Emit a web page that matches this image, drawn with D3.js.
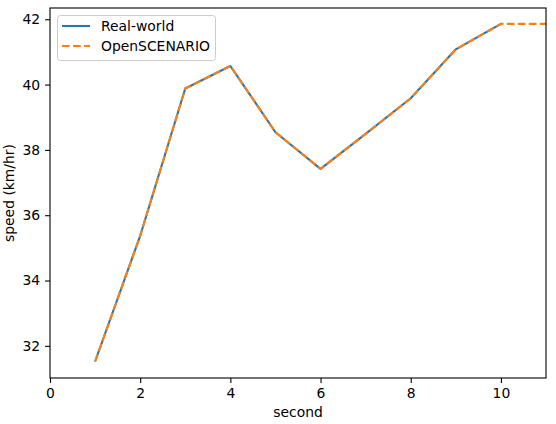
<!DOCTYPE html>
<html>
<head>
  <meta charset="utf-8">
  <script src="https://d3js.org/d3.v7.min.js"></script>
  <style>
    body { margin: 0; background: #fff; }
    text { font-family: "DejaVu Sans", sans-serif; }
  </style>
</head>
<body>
<script>
  // values
  var seconds = [1, 2, 3, 4, 5, 6, 7, 8, 9, 10];
  var realWorld = [31.52, 35.37, 39.88, 40.57, 38.54, 37.42, 38.49, 39.58, 41.08, 41.86];
  var scenarioSeconds = [1, 2, 3, 4, 5, 6, 7, 8, 9, 10, 11, 12];
  var openScenario = [31.52, 35.37, 39.88, 40.57, 38.54, 37.42, 38.49, 39.58, 41.08, 41.86, 41.86, 41.86];
  var xTicks = [0, 2, 4, 6, 8, 10];
  var yTicks = [32, 34, 36, 38, 40, 42];

  var W = 556, H = 424;
  var axL = 50, axR = 546, axT = 8, axB = 378;

  var svg = d3.select("body").append("svg")
      .attr("width", W).attr("height", H);

  var x = d3.scaleLinear().domain([0, 11]).range([axL, axR]);
  var y = d3.scaleLinear().domain([31.015, 42.345]).range([axB, axT]);

  svg.append("defs").append("clipPath").attr("id", "clip")
    .append("rect").attr("x", axL).attr("y", axT)
      .attr("width", axR - axL).attr("height", axB - axT);

  var line = d3.line().x(function(d) { return x(d[0]); }).y(function(d) { return y(d[1]); });

  var plot = svg.append("g").attr("clip-path", "url(#clip)");
  plot.append("path")
      .datum(d3.zip(seconds, realWorld))
      .attr("d", line)
      .attr("fill", "none").attr("stroke", "#1f77b4")
      .attr("stroke-width", 2.08).attr("stroke-linejoin", "round");
  plot.append("path")
      .datum(d3.zip(scenarioSeconds, openScenario))
      .attr("d", line)
      .attr("fill", "none").attr("stroke", "#ff7f0e")
      .attr("stroke-width", 2.08).attr("stroke-dasharray", "7.7,3.3");

  // axes
  var xAxis = svg.append("g").attr("transform", "translate(0," + axB + ")")
      .call(d3.axisBottom(x).tickValues(xTicks).tickSize(4.9).tickPadding(4.9).tickSizeOuter(0));
  var yAxis = svg.append("g").attr("transform", "translate(" + axL + ",0)")
      .call(d3.axisLeft(y).tickValues(yTicks).tickSize(4.9).tickPadding(4.9).tickSizeOuter(0));
  [xAxis, yAxis].forEach(function(a) {
    a.select(".domain").remove();
    a.selectAll("line").attr("stroke", "#000").attr("stroke-width", 1.1);
    a.selectAll("text").attr("font-size", 13.9).attr("fill", "#000")
      .attr("font-family", "DejaVu Sans");
  });

  svg.append("rect")
      .attr("x", axL).attr("y", axT)
      .attr("width", axR - axL).attr("height", axB - axT)
      .attr("fill", "none").attr("stroke", "#000").attr("stroke-width", 1.1);

  svg.append("text")
      .attr("x", (axL + axR) / 2).attr("y", 417)
      .attr("text-anchor", "middle").attr("font-size", 13.9)
      .text("second");
  svg.append("text")
      .attr("transform", "translate(14," + (axT + axB) / 2 + ") rotate(-90)")
      .attr("text-anchor", "middle").attr("font-size", 13.9)
      .text("speed (km/hr)");

  // legend
  var legend = svg.append("g");
  legend.append("rect")
      .attr("x", 57.5).attr("y", 15.5).attr("width", 158).attr("height", 45)
      .attr("rx", 3).attr("fill", "#fff").attr("fill-opacity", 0.8)
      .attr("stroke", "#ccc").attr("stroke-width", 1);
  var items = [
    { name: "Real-world", color: "#1f77b4", dash: null },
    { name: "OpenSCENARIO", color: "#ff7f0e", dash: "7.7,3.3" }
  ];
  items.forEach(function(it, i) {
    var yy = 26 + i * 20;
    legend.append("line")
        .attr("x1", 62).attr("x2", 90).attr("y1", yy).attr("y2", yy)
        .attr("stroke", it.color).attr("stroke-width", 2.08)
        .attr("stroke-dasharray", it.dash);
    legend.append("text")
        .attr("x", 101).attr("y", yy + 5)
        .attr("font-size", 13.9)
        .text(it.name);
  });
</script>
</body>
</html>
